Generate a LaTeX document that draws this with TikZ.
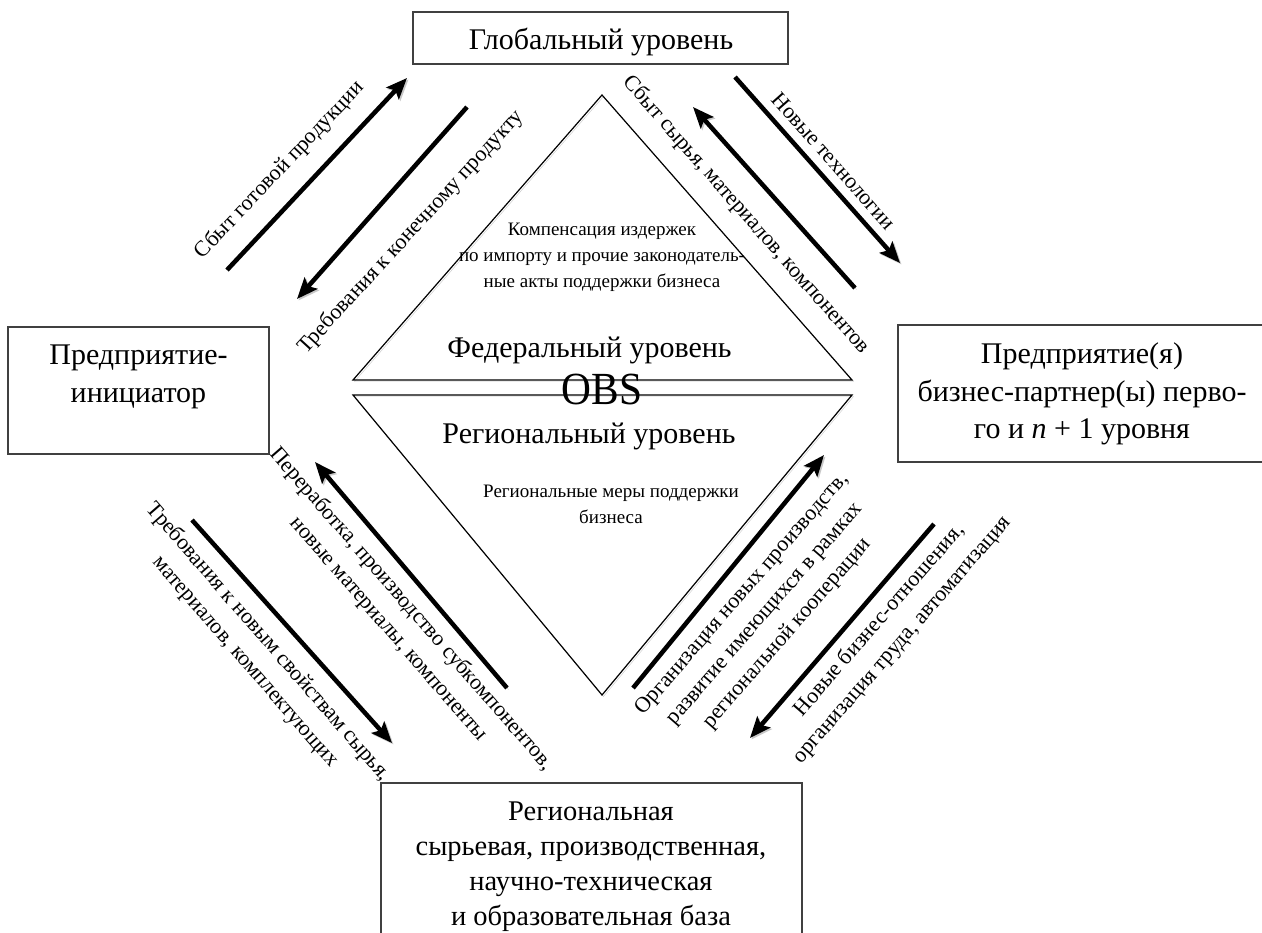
\documentclass[tikz,border=0pt]{standalone}
\usepackage{fontspec}
\setmainfont{Liberation Serif}
\usetikzlibrary{arrows.meta}
\begin{document}
\begin{tikzpicture}[x=1bp,y=-1bp,
  box/.style={draw=black!75, line width=1.4bp, inner sep=0pt, outer sep=0pt},
  big/.style={font=\fontsize{30bp}{37.5bp}\selectfont, inner sep=0pt, anchor=base},
  bot/.style={font=\fontsize{28.5bp}{35bp}\selectfont, inner sep=0pt, anchor=base},
  small/.style={font=\fontsize{19bp}{26bp}\selectfont, inner sep=0pt, anchor=base},
  lab/.style={font=\fontsize{22bp}{30bp}\selectfont, inner sep=0pt, align=center},
  shad/.style={preaction={draw=black!30, opacity=0.7, transform canvas={shift={(1.5,1.5)}}}},
  arr/.style={shad, line width=4.5bp, line cap=butt, -{Stealth[length=21bp,width=17bp,inset=4bp]}},
  tri/.style={shad, line width=1.2bp, line join=miter}]
\useasboundingbox (0,0) rectangle (1262,933);
\clip (0,0) rectangle (1262,933);
\fill[white] (0,0) rectangle (1262,933);

% boxes
\node[box, minimum width=375bp, minimum height=52bp] (glob) at (600.5,38) {};
\node[big] (globt) at (601,49) {Глобальный уровень};

\node[box, minimum width=261bp, minimum height=127bp] (init) at (138.5,390.5) {};
\node[big] (init1) at (138.5,364) {Предприятие-};
\node[big] (init2) at (138.5,402) {инициатор};

\node[box, minimum width=370bp, minimum height=137bp] (part) at (1083,393.5) {};
\node[big] (part1) at (1082,363) {Предприятие(я)};
\node[big] (part2) at (1082,401) {бизнес-партнер(ы) перво-};
\node[big] (part3) at (1082,438) {го и \textit{n} + 1 уровня};

\node[box, minimum width=421bp, minimum height=220bp] (base) at (591.5,893) {};
\node[bot] (base1) at (591,820) {Региональная};
\node[bot] (base2) at (591,855) {сырьевая, производственная,};
\node[bot] (base3) at (591,890) {научно-техническая};
\node[bot] (base4) at (591,925) {и образовательная база};

% triangles
\coordinate (ta) at (602,95);
\coordinate (tl) at (353,380);
\coordinate (tr) at (852,380);
\coordinate (bl) at (353,395);
\coordinate (br) at (852,395);
\coordinate (bv) at (602,695);
\draw[tri] (tl) -- (ta) -- (tr) -- cycle;
\draw[tri] (bl) -- (br) -- (bv) -- cycle;

\node[small] (k1) at (602,235) {Компенсация издержек};
\node[small] (k2) at (602,261) {по импорту и прочие законодатель-};
\node[small] (k3) at (602,287) {ные акты поддержки бизнеса};
\node[big] (fed) at (589.5,357) {Федеральный уровень};
\node[font=\fontsize{46bp}{46bp}\selectfont, inner sep=0pt, anchor=base, xscale=0.9] (obs) at (602,404) {OBS};
\node[big] (reg) at (589,443) {Региональный уровень};
\node[small] (r1) at (611,497) {Региональные меры поддержки};
\node[small] (r2) at (611,523) {бизнеса};

% arrows
\coordinate (a1s) at (227,270); \coordinate (a1e) at (407,78);
\coordinate (a2s) at (467,107); \coordinate (a2e) at (297,299);
\coordinate (a3s) at (855,288); \coordinate (a3e) at (693,107);
\coordinate (a4s) at (735,77);  \coordinate (a4e) at (900,263);
\coordinate (a5s) at (507,688); \coordinate (a5e) at (315,462);
\coordinate (a6s) at (192,520); \coordinate (a6e) at (392,743);
\coordinate (a7s) at (633,688); \coordinate (a7e) at (824,455);
\coordinate (a8s) at (934,524); \coordinate (a8e) at (750,738);
\draw[arr] (a1s) -- (a1e);
\draw[arr] (a2s) -- (a2e);
\draw[arr] (a3s) -- (a3e);
\draw[arr] (a4s) -- (a4e);
\draw[arr] (a5s) -- (a5e);
\draw[arr] (a6s) -- (a6e);
\draw[arr] (a7s) -- (a7e);
\draw[arr] (a8s) -- (a8e);

% labels
\node[lab, rotate=46.5] (l1) at (280,170) {Сбыт готовой продукции};
\node[lab, rotate=47.5] (l2) at (411,232) {Требования к конечному продукту};
\node[lab, rotate=-48.7] (l3) at (746,215) {Сбыт сырья, материалов, компонентов};
\node[lab, rotate=-48.5] (l4) at (834,161) {Новые технологии};
\node[lab, rotate=-49] (l5) at (400,619) {Переработка, производство субкомпонентов,\\новые материалы, компоненты};
\node[lab, rotate=-49] (l6) at (257,652) {Требования к новым свойствам сырья,\\материалов, комплектующих};
\node[lab, rotate=49] (l7) at (765,614) {Организация новых производств,\\развитие имеющихся в рамках\\региональной кооперации};
\node[lab, rotate=49] (l8) at (891,630) {Новые бизнес-отношения,\\организация труда, автоматизация};
\end{tikzpicture}
\end{document}
